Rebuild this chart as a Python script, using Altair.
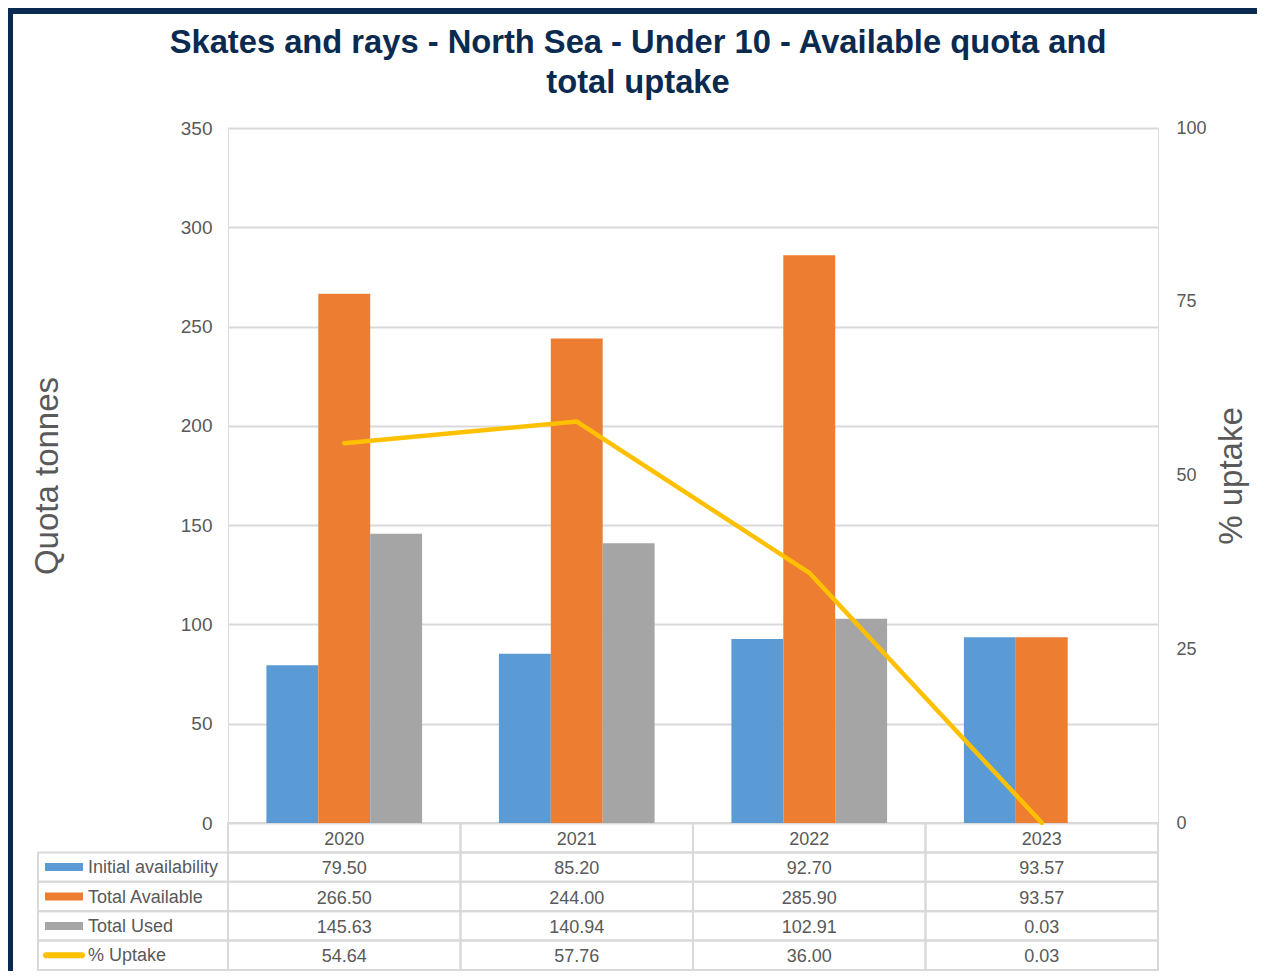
import altair as alt
import pandas as pd

# ---- data ----
years = ["2020", "2021", "2022", "2023"]
initial_availability = [79.50, 85.20, 92.70, 93.57]
total_available = [266.50, 244.00, 285.90, 93.57]
total_used = [145.63, 140.94, 102.91, 0.03]
pct_uptake = [54.64, 57.76, 36.00, 0.03]

bar_series = ["Initial availability", "Total Available", "Total Used"]
line_series = "% Uptake"
series_colors = ["#5B9BD5", "#ED7D31", "#A5A5A5", "#FFC000"]
left_ticks = [0, 50, 100, 150, 200, 250, 300, 350]
right_ticks = [0, 25, 50, 75, 100]

FONT = "Liberation Sans"
TXT = "#595959"
GRID = "#D9D9D9"
NAVY = "#0B2A4F"

# ---- tables built from the arrays ----
bars_df = pd.DataFrame(
    [
        {"year": y, "series": s, "value": v}
        for s, vals in zip(bar_series, [initial_availability, total_available, total_used])
        for y, v in zip(years, vals)
    ]
)
line_df = pd.DataFrame({"year": years, "uptake": pct_uptake})

row_order = ["header"] + bar_series + [line_series]
table_records = [{"year": y, "row": "header", "label": y} for y in years]
for s, vals in zip(bar_series + [line_series],
                   [initial_availability, total_available, total_used, pct_uptake]):
    for y, v in zip(years, vals):
        table_records.append({"year": y, "row": s, "label": f"{v:.2f}"})
table_df = pd.DataFrame(table_records)
legend_df = pd.DataFrame({"row": bar_series + [line_series]})

# ---- scales ----
x_scale = alt.Scale(domain=years, paddingInner=0, paddingOuter=0)
xoff_scale = alt.Scale(domain=bar_series, paddingInner=0, paddingOuter=0.74)
color_scale = alt.Scale(domain=bar_series + [line_series], range=series_colors)
row_scale = alt.Scale(domain=row_order, range=[695, 842], paddingInner=0, paddingOuter=0)

X = alt.X("year:N", scale=x_scale, axis=None)
ROW = alt.Y("row:N", scale=row_scale, axis=None)

# ---- table (drawn below the plot) ----
cells = alt.Chart(table_df).mark_rect(fillOpacity=0, stroke=GRID, strokeWidth=2).encode(x=X, y=ROW)
cell_text = alt.Chart(table_df).mark_text(fontSize=18, color=TXT, font=FONT, dy=2).encode(
    x=X, y=ROW, text="label:N"
)
label_box = alt.Chart(legend_df).mark_rect(fillOpacity=0, stroke=GRID, strokeWidth=2).encode(
    x=alt.value(-190), x2=alt.value(0), y=ROW
)
swatch_bars = alt.Chart(legend_df).transform_filter(
    alt.datum.row != line_series
).mark_rule(strokeWidth=8, strokeCap="butt").encode(
    x=alt.value(-183), x2=alt.value(-145), y=ROW,
    color=alt.Color("row:N", scale=color_scale, legend=None),
)
swatch_line = alt.Chart(legend_df).transform_filter(
    alt.datum.row == line_series
).mark_rule(strokeWidth=6, strokeCap="round").encode(
    x=alt.value(-182), x2=alt.value(-146), y=ROW,
    color=alt.Color("row:N", scale=color_scale, legend=None),
)
label_text = alt.Chart(legend_df).mark_text(
    align="left", fontSize=18, color=TXT, font=FONT, dy=1
).encode(x=alt.value(-140), y=ROW, text="row:N")

# ---- bars ----
bars = alt.Chart(bars_df).mark_bar().encode(
    x=X,
    xOffset=alt.XOffset("series:N", scale=xoff_scale),
    y=alt.Y(
        "value:Q",
        scale=alt.Scale(domain=[0, 350], nice=False),
        axis=alt.Axis(
            orient="left", values=left_ticks, title="Quota tonnes",
            titleFontSize=33, titleFont=FONT, titleFontWeight="normal", titleColor=TXT,
            titlePadding=116, labelFontSize=19, labelFont=FONT, labelColor=TXT,
            labelPadding=16, ticks=False, domain=False, grid=True,
            gridColor=GRID, gridWidth=2,
        ),
    ),
    color=alt.Color("series:N", scale=color_scale, legend=None),
)

# ---- line ----
line = alt.Chart(line_df).mark_line(
    color="#FFC000", strokeWidth=4.5, strokeCap="round", strokeJoin="miter"
).encode(
    x=X,
    y=alt.Y(
        "uptake:Q",
        scale=alt.Scale(domain=[0, 100], nice=False),
        axis=alt.Axis(
            orient="right", values=right_ticks, title="% uptake",
            titleFontSize=33, titleFont=FONT, titleFontWeight="normal", titleColor=TXT,
            titleAngle=270, titleBaseline="top", titlePadding=9,
            labelFontSize=18, labelFont=FONT, labelColor=TXT, labelPadding=18,
            ticks=False, domain=False, grid=False,
        ),
    ),
)

# ---- frame decoration (navy top/left band) ----
frame_df = pd.DataFrame({"k": [0]})
frame_top = alt.Chart(frame_df).mark_rect(color=NAVY).encode(
    x=alt.value(-220), x2=alt.value(1040), y=alt.value(-120), y2=alt.value(-114)
)
frame_left = alt.Chart(frame_df).mark_rect(color=NAVY).encode(
    x=alt.value(-220), x2=alt.value(-215), y=alt.value(-120), y2=alt.value(850)
)

chart = alt.layer(
    cells, cell_text, label_box, swatch_bars, swatch_line, label_text,
    bars, line, frame_top, frame_left,
).resolve_scale(y="independent").properties(
    width=930,
    height=695,
    padding={"left": 220, "top": 120, "right": 99, "bottom": 148},
    autosize=alt.AutoSizeParams(type="none"),
    title=alt.TitleParams(
        text=["Skates and rays - North Sea - Under 10 - Available quota and", "total uptake"],
        fontSize=32.7, font=FONT, fontWeight="bold", color=NAVY,
        anchor="middle", frame="group", dx=-55, dy=125, offset=0,
        baseline="bottom", lineHeight=40,
    ),
).configure_view(stroke=None).configure(font=FONT)

chart.save("out.html", embed_options={"renderer": "svg", "actions": False})
